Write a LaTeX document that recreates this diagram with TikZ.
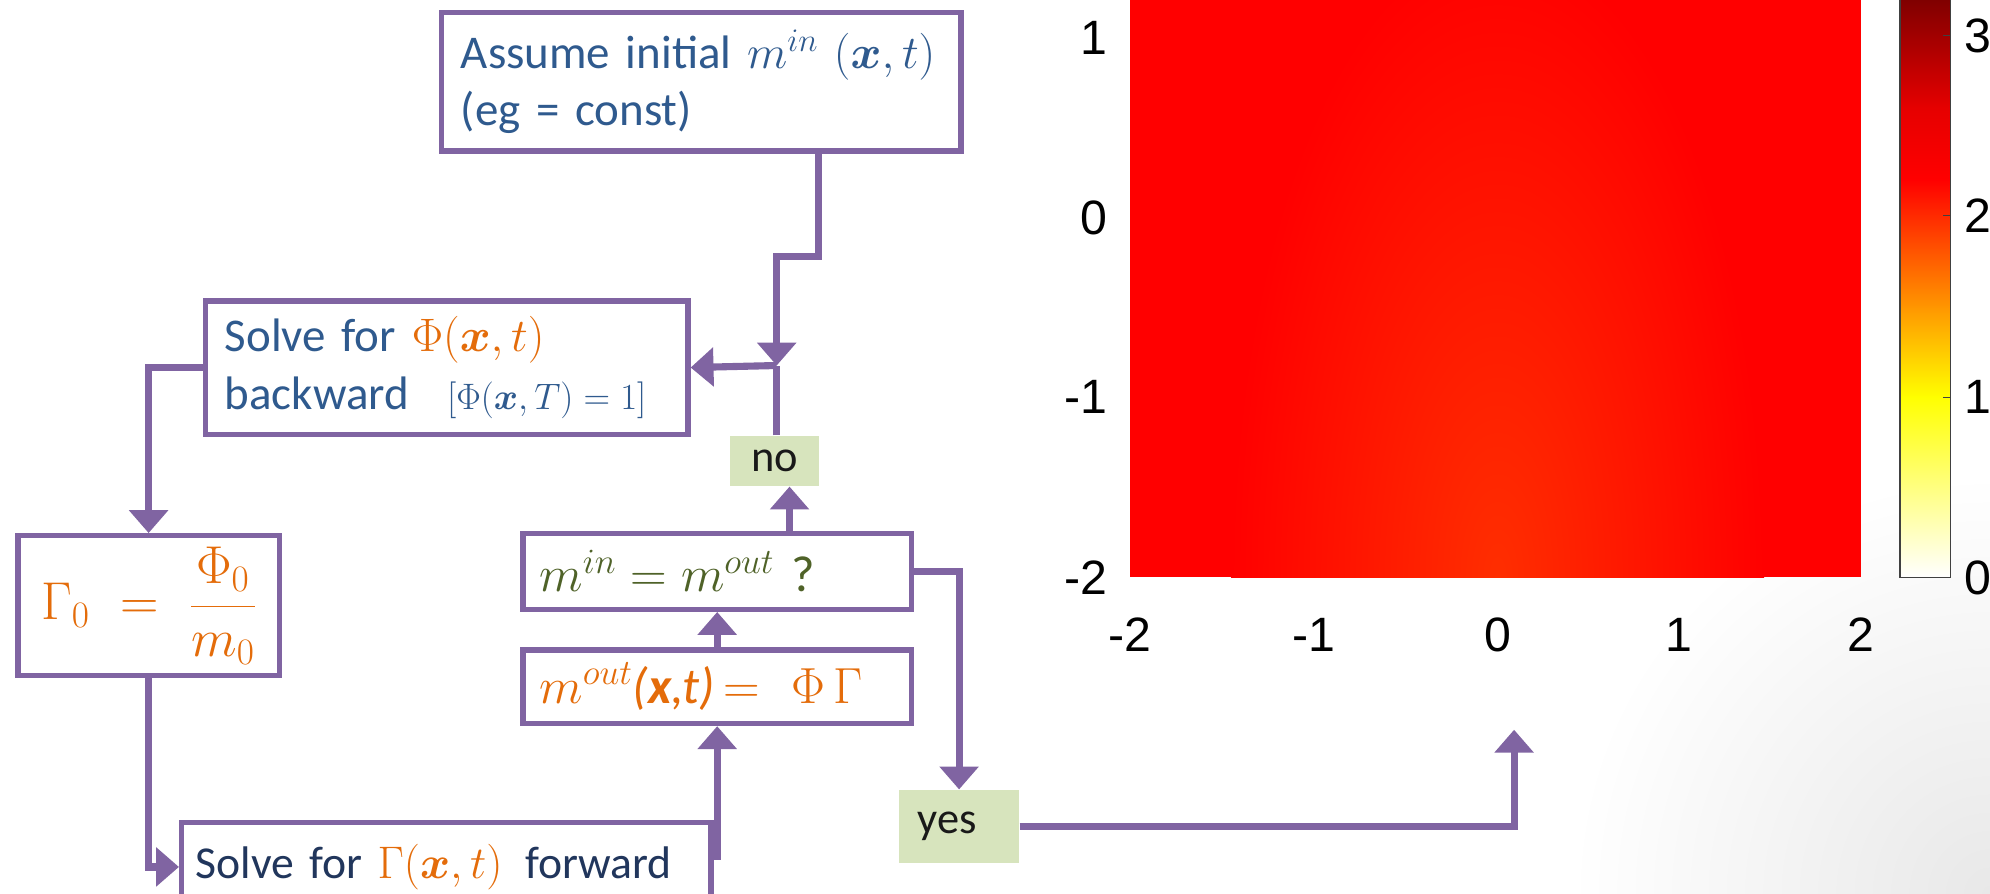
\RequirePackage{fix-cm}
\documentclass[tikz,border=0pt]{standalone}
\usepackage{amsmath,bm}
\usepackage[no-math]{fontspec}
\setmainfont{Carlito}
\newfontfamily\axisfont{Liberation Sans}
\usetikzlibrary{arrows.meta, positioning}

\definecolor{flowviolet}{RGB}{128,100,162}
\definecolor{stepblue}{RGB}{47,90,142}
\definecolor{stepnavy}{RGB}{33,54,92}
\definecolor{stepgold}{RGB}{228,108,10}
\definecolor{stepolive}{RGB}{79,98,40}
\definecolor{tagfill}{RGB}{215,228,189}
\definecolor{heatred}{RGB}{255,0,0}
\definecolor{heatglow}{RGB}{255,46,0}
\definecolor{cbarorange}{RGB}{255,150,0}
\definecolor{cbardark}{RGB}{128,0,0}

\begin{document}
\begin{tikzpicture}[
        x=1pt, y=-1pt,
        flow_box/.style={
            draw=flowviolet,
            rectangle,
            line width=4.2pt,
            fill=white,
            inner xsep=15pt,
            inner ysep=0pt,
            anchor=north west,
            align=left,
            font=\fontsize{37}{45}\selectfont
        },
        tag_box/.style={
            fill=tagfill,
            rectangle,
            inner sep=0pt,
            anchor=north west,
            text=black!90,
            font=\fontsize{35}{40}\selectfont
        },
        arrow_style/.style={
            -{Triangle[length=18pt, width=30pt]},
            draw=flowviolet,
            line width=5.6pt
        },
        line_style/.style={
            draw=flowviolet,
            line width=5.6pt
        },
        tick_label/.style={
            inner sep=0pt,
            text=black,
            font=\axisfont\fontsize{38}{42}\selectfont
        }
    ]
        \useasboundingbox (0,0) rectangle (1568,704);
        \fill[white] (0,0) rectangle (1568,704);
        \begin{scope}
            \clip (0,0) rectangle (1568,704);
            \shade[inner color=black!9, outer color=white] (1568,704) circle (330pt);
        \end{scope}

        % heat map
        \fill[heatred] (890,0) rectangle (1466,455);
        \begin{scope}
            \clip (890,0) rectangle (1466,455);
            \shade[inner color=heatglow, outer color=heatred] (1180,455) ellipse (210pt and 500pt);
        \end{scope}

        % colour bar
        \shade[bottom color=white, top color=yellow] (1497,455) rectangle (1537,312.5);
        \shade[bottom color=yellow, top color=cbarorange] (1497,313) rectangle (1537,241.5);
        \shade[bottom color=cbarorange, top color=red] (1497,242) rectangle (1537,141.5);
        \shade[bottom color=red, top color=red!90!black] (1497,142) rectangle (1537,84.5);
        \shade[bottom color=red!90!black, top color=cbardark] (1497,85) rectangle (1537,0);
        \draw[black!75, line width=1pt] (1497,0) -- (1497,455) -- (1537,455) -- (1537,0);
        \draw[black!75, line width=1pt] (1537,313) -- ++(-6,0);
        \draw[black!75, line width=1pt] (1537,170) -- ++(-6,0);
        \draw[black!75, line width=1pt] (1537,28) -- ++(-6,0);

        \node[tick_label, anchor=east] (ylab_a) at (873,30) {1};
        \node[tick_label, anchor=east] (ylab_b) at (873,172) {0};
        \node[tick_label, anchor=east] (ylab_c) at (873,313) {-1};
        \node[tick_label, anchor=east] (ylab_d) at (873,455) {-2};
        \node[tick_label] (xlab_a) at (890,500) {-2};
        \node[tick_label] (xlab_b) at (1035,500) {-1};
        \node[tick_label] (xlab_c) at (1180,500) {0};
        \node[tick_label] (xlab_d) at (1323,500) {1};
        \node[tick_label] (xlab_e) at (1466,500) {2};
        \node[tick_label, anchor=west] (clab_a) at (1548,28) {3};
        \node[tick_label, anchor=west] (clab_b) at (1548,170) {2};
        \node[tick_label, anchor=west] (clab_c) at (1548,313) {1};
        \node[tick_label, anchor=west] (clab_d) at (1548,455) {0};

        % flow chart
        \node[flow_box, text=stepblue, text width=379pt, minimum height=109pt] (init) at (346,8)
            {Assume initial $m^{in}\ (\bm{x},t)$\\(eg = const)};
        \node[flow_box, text=stepblue, text width=350pt, minimum height=105pt] (solvephi) at (160,235)
            {Solve for {\color{stepgold}$\Phi(\bm{x},t)$}\\backward\hspace{30pt}{\fontsize{29}{34}\selectfont$[\Phi(\bm{x},T)=1]$}};
        \node[flow_box, text=stepgold, text width=176pt, minimum height=110pt, align=center,
              font=\fontsize{42}{48}\selectfont] (gamma0) at (12,420)
            {$\Gamma_0\;=\;\dfrac{\Phi_0}{m_0}$};
        \node[flow_box, text=stepnavy, text width=395pt, minimum height=70pt, inner xsep=11pt,
              font=\fontsize{36}{44}\selectfont] (fwd) at (141,646)
            {\mbox{Solve for {\color{stepgold}$\Gamma(\bm{x},t)$}\ \,forward}};
        \node[flow_box, text=stepgold, text width=280pt, minimum height=58pt, inner xsep=13pt,
              font=\fontsize{40}{46}\selectfont] (mout) at (410,510)
            {\mbox{$m^{out}$\textit{(\textbf{x},t)}$\,=\ \Phi\,\Gamma$}};
        \node[flow_box, text=stepolive, text width=280pt, minimum height=60pt, inner xsep=13pt,
              font=\fontsize{40}{46}\selectfont] (check) at (410,418)
            {$m^{in}=m^{out}$ ?};
        \node[tag_box, minimum width=70pt, minimum height=40pt] (no) at (575,343) {no};
        \node[tag_box, text width=65pt, inner xsep=15pt, minimum height=58pt, align=left] (yes) at (708,622) {yes};

        \coordinate (init_out) at ([xshift=92pt]init.south);
        \coordinate (join) at (612,288);
        \coordinate (check_out) at ([xshift=57pt]check.north);
        \coordinate (fwd_out) at ([yshift=8pt]fwd.east);
        \coordinate (plot_in) at (1193,575);

        \draw[arrow_style] (init_out) -- ++(0,81) -| (join);
        \draw[line_style] (no.north -| join) -- (join);
        \draw[arrow_style] (join) -- (solvephi.east);
        \draw[arrow_style] (solvephi.west) -| (gamma0.north);
        \draw[arrow_style] (gamma0.south) |- (fwd.west);
        \draw[arrow_style] (fwd_out) -| (mout.south);
        \draw[arrow_style] (mout.north) -- (check.south);
        \draw[arrow_style] (check_out) -- (no.south -| check_out);
        \draw[arrow_style] (check.east) -| (yes.north);
        \draw[arrow_style] (yes.east) -| (plot_in);
    \end{tikzpicture}
\end{document}
